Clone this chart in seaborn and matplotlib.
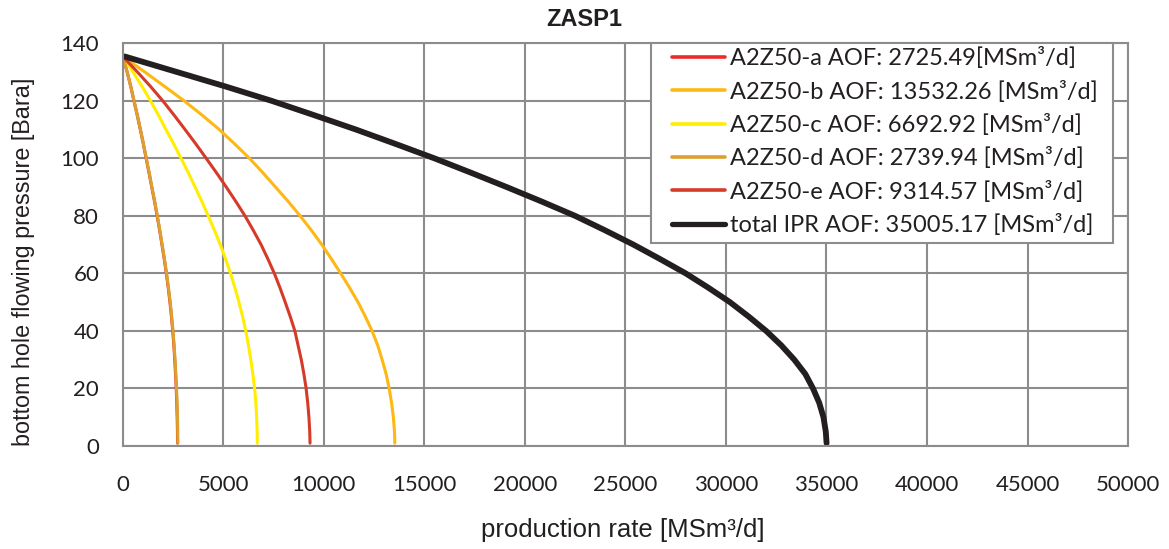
import matplotlib
matplotlib.use("Agg")
import matplotlib.pyplot as plt
from matplotlib.patches import Rectangle
import seaborn as sns
import pandas as pd

# ---- data ----
pressure = [135.4, 130, 125, 120, 115, 110, 105, 100, 95, 90, 85, 80, 75, 70, 65, 60, 55, 50, 45, 40, 35, 30, 25, 20, 15, 10, 5, 1]
q_a = [0, 219, 398, 557, 721, 875, 1024, 1164, 1307, 1442, 1582, 1711, 1835, 1950, 2064, 2168, 2263, 2347, 2422, 2487, 2542, 2586, 2626, 2661, 2686, 2708, 2721, 2725]
q_b = [0, 1100, 2080, 3050, 3950, 4800, 5570, 6300, 6970, 7600, 8230, 8820, 9380, 9900, 10380, 10840, 11285, 11700, 12065, 12400, 12680, 12900, 13100, 13250, 13370, 13460, 13515, 13532]
q_c = [0, 510, 960, 1380, 1775, 2150, 2535, 2900, 3260, 3600, 3935, 4250, 4560, 4850, 5115, 5360, 5580, 5780, 5960, 6120, 6250, 6370, 6470, 6560, 6620, 6660, 6685, 6693]
q_d = [0, 220, 400, 560, 725, 880, 1030, 1170, 1315, 1450, 1590, 1720, 1845, 1960, 2075, 2180, 2275, 2360, 2435, 2500, 2555, 2600, 2640, 2675, 2700, 2722, 2735, 2740]
q_e = [0, 730, 1380, 1990, 2555, 3100, 3635, 4150, 4660, 5150, 5625, 6080, 6490, 6880, 7220, 7540, 7820, 8080, 8330, 8560, 8720, 8880, 9010, 9120, 9200, 9260, 9300, 9315]
q_total = [100, 2700, 5100, 7400, 9520, 11600, 13570, 15500, 17320, 19100, 20830, 22500, 23980, 25400, 26720, 28000, 29130, 30200, 31130, 32000, 32750, 33400, 33950, 34330, 34640, 34850, 34965, 35005]

labels = [
    "A2Z50-a AOF: 2725.49[MSm³/d]",
    "A2Z50-b AOF: 13532.26 [MSm³/d]",
    "A2Z50-c AOF: 6692.92 [MSm³/d]",
    "A2Z50-d AOF: 2739.94 [MSm³/d]",
    "A2Z50-e AOF: 9314.57 [MSm³/d]",
    "total IPR AOF: 35005.17 [MSm³/d]",
]
x_ticks = [0, 5000, 10000, 15000, 20000, 25000, 30000, 35000, 40000, 45000, 50000]
y_ticks = [0, 20, 40, 60, 80, 100, 120, 140]

series = [q_a, q_b, q_c, q_d, q_e, q_total]
colors = ["#EE2A2A", "#FDB813", "#FFEE00", "#DCA030", "#D63A28", "#231F20"]
widths = [2.2, 2.2, 2.2, 2.2, 2.2, 4.2]
leg_widths = [2.6, 2.6, 2.6, 2.6, 2.6, 3.8]

TXT = "#231F20"
GRID = "#8C8C8C"

sns.set_theme(style="white")
plt.rcParams["font.family"] = ["Liberation Sans", "DejaVu Sans"]

fig = plt.figure(figsize=(11.69, 5.49), dpi=100)
ax = fig.add_axes([0.105, 0.1876, 0.86, 0.7336])

for q, lab, c, w in zip(series, labels, colors, widths):
    df = pd.DataFrame({"q": q, "p": pressure})
    sns.lineplot(data=df, x="q", y="p", sort=False, estimator=None, color=c,
                 linewidth=w, label=lab, ax=ax, solid_capstyle="round",
                 solid_joinstyle="round")

ax.set_xlim(0, 50000)
ax.set_ylim(0, 140)
ax.set_xticks(x_ticks)
ax.set_yticks(y_ticks)
ax.set_xticklabels([str(t) for t in x_ticks])
ax.set_yticklabels([str(t) for t in y_ticks])
ax.grid(True, color=GRID, linewidth=1.5)
ax.set_axisbelow(True)
for s in ax.spines.values():
    s.set_color(GRID)
    s.set_linewidth(1.5)
ax.tick_params(axis="both", which="major", direction="out", length=6, width=1.5,
               color=GRID, labelsize=16, labelcolor=TXT)
for t in ax.get_xticklabels() + ax.get_yticklabels():
    t.set_fontfamily(["Lato", "DejaVu Sans"])
ax.tick_params(axis="x", pad=15)
ax.tick_params(axis="y", pad=11)

ax.set_xlabel("production rate [MSm³/d]", fontsize=18.5, color=TXT)
ax.set_ylabel("bottom hole flowing pressure [Bara]", fontsize=16.8, color=TXT)
ax.xaxis.set_label_coords(0.4977, -0.178)
ax.yaxis.set_label_coords(-0.087, 0.458)
fig.suptitle("ZASP1", x=0.5, y=0.985, fontsize=17, fontweight="bold", color=TXT)

# legend frame (drawn as a box in axes coordinates)
x0 = (651 - 122.7) / 1005.3
x1 = (1113 - 122.7) / 1005.3
y0 = (446 - 243) / 403.0
box = Rectangle((x0, y0), x1 - x0, 1.0 - y0, transform=ax.transAxes, facecolor="white",
                edgecolor=GRID, linewidth=1.5, zorder=4, clip_on=False)
ax.add_patch(box)

leg = ax.legend(loc="upper left", bbox_to_anchor=((672 - 122.7) / 1005.3, 0.990), frameon=False,
                borderaxespad=0, borderpad=0.0, handlelength=2.25, handletextpad=0.2,
                labelspacing=0.48, prop={"family": ["Lato", "DejaVu Sans"], "size": 17})
leg.set_zorder(5)
for t in leg.get_texts():
    t.set_color(TXT)
for h, lw in zip(leg.legend_handles, leg_widths):
    h.set_linewidth(lw)

fig.savefig("out.png", dpi=100)
